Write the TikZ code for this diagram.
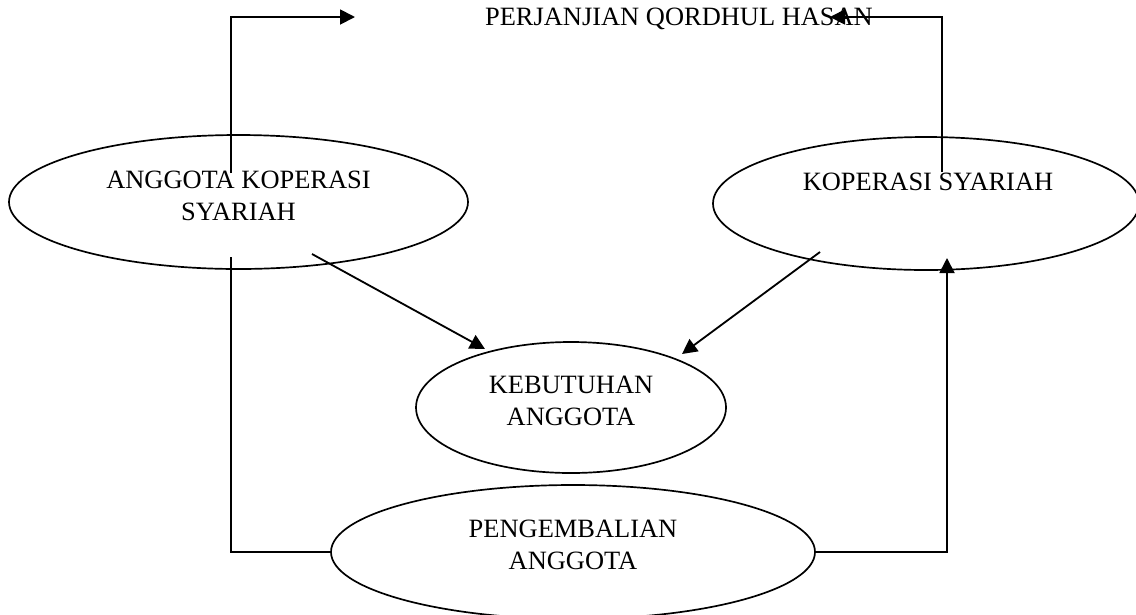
\documentclass[tikz,border=0pt]{standalone}
\usepackage{fontspec}
\setmainfont{Liberation Serif}
\usetikzlibrary{shapes.geometric,arrows.meta,calc}
\begin{document}
\begin{tikzpicture}[x=0.025cm,y=-0.025cm,
  every node/.style={inner sep=0pt, outer sep=0pt},
  bubble/.style={draw, ellipse, line width=1.2pt},
  lbl/.style={align=center, font=\fontsize{18.8pt}{22.8pt}\selectfont},
  link/.style={line width=1.3pt},
  flow/.style={link, -{Triangle[length=0.375cm,width=0.375cm]}}]
\useasboundingbox (0,0) rectangle (1136,614);

% ellipses
\node[bubble, minimum width=459*0.025cm, minimum height=134*0.025cm] (anggota) at (238.5,202) {};
\node[bubble, minimum width=426*0.025cm, minimum height=133*0.025cm] (koperasi) at (926,203.5) {};
\node[bubble, minimum width=310*0.025cm, minimum height=131*0.025cm] (kebutuhan) at (571,407.5) {};
\node[bubble, minimum width=484*0.025cm, minimum height=134*0.025cm] (pengembalian) at (573,552) {};

% labels
\node[lbl] (anggotaText) at (238.5,196) {ANGGOTA KOPERASI\\SYARIAH};
\node[lbl, anchor=base] (koperasiText) at (928,190) {KOPERASI SYARIAH};
\node[lbl] (kebutuhanText) at (571,401) {KEBUTUHAN\\ANGGOTA};
\node[lbl] (pengembalianText) at (573,545) {PENGEMBALIAN\\ANGGOTA};
\node[lbl, anchor=base] (perjanjian) at (679,25) {PERJANJIAN QORDHUL HASAN};

% connector ends
\coordinate (aUp) at (231,173);
\coordinate (aDown) at (231,257);
\coordinate (kUp) at (942,172);
\coordinate (kIn) at (947,258);
\coordinate (toLeft) at (355,17);
\coordinate (toRight) at (830,17);
\coordinate (aDiag) at (312,254);
\coordinate (kDiag) at (820,252);
\coordinate (bL) at (485,349);
\coordinate (bR) at (682,354);

% connectors
\draw[flow] (aUp) |- (toLeft);
\draw[flow] (kUp) |- (toRight);
\draw[link] (aDown) |- (pengembalian.west);
\draw[flow] (pengembalian.east) -| (kIn);
\draw[flow] (aDiag) -- (bL);
\draw[flow] (kDiag) -- (bR);
\end{tikzpicture}
\end{document}
